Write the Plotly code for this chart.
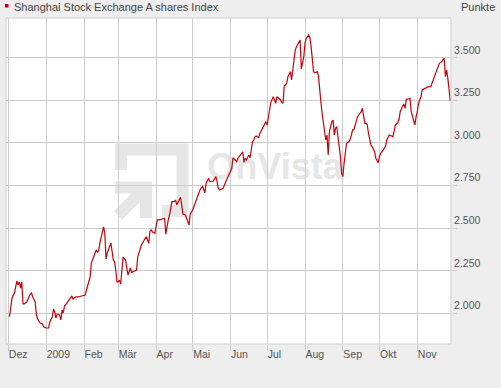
import plotly.graph_objects as go

# ---------------- data ----------------
dates = [
    "2008-12-02","2008-12-03","2008-12-04","2008-12-06","2008-12-07","2008-12-08","2008-12-09","2008-12-10",
    "2008-12-11","2008-12-12","2008-12-13","2008-12-14","2008-12-16","2008-12-17","2008-12-19","2008-12-20",
    "2008-12-21","2008-12-23","2008-12-24","2008-12-25","2008-12-27","2008-12-29","2008-12-30","2009-01-01",
    "2009-01-03","2009-01-04","2009-01-06","2009-01-07","2009-01-08","2009-01-09","2009-01-10","2009-01-11",
    "2009-01-12","2009-01-13","2009-01-14","2009-01-15","2009-01-16","2009-01-18","2009-01-19","2009-01-21",
    "2009-01-22","2009-01-23","2009-01-25","2009-01-27","2009-01-30","2009-02-02","2009-02-03","2009-02-05",
    "2009-02-06","2009-02-07","2009-02-08","2009-02-09","2009-02-11","2009-02-12","2009-02-13","2009-02-14",
    "2009-02-15","2009-02-16","2009-02-17","2009-02-18","2009-02-19","2009-02-20","2009-02-22","2009-02-23",
    "2009-02-25","2009-02-26","2009-02-27","2009-02-28","2009-03-01","2009-03-02","2009-03-03","2009-03-04",
    "2009-03-05","2009-03-07","2009-03-08","2009-03-09","2009-03-11","2009-03-12","2009-03-13","2009-03-16",
    "2009-03-17","2009-03-19","2009-03-20","2009-03-22","2009-03-23","2009-03-24","2009-03-26","2009-03-27",
    "2009-03-28","2009-03-29","2009-03-31","2009-04-01","2009-04-02","2009-04-04","2009-04-06","2009-04-08",
    "2009-04-09","2009-04-10","2009-04-11","2009-04-12","2009-04-13","2009-04-14","2009-04-16","2009-04-17",
    "2009-04-18","2009-04-20","2009-04-21","2009-04-22","2009-04-23","2009-04-25","2009-04-26","2009-04-27",
    "2009-04-28","2009-04-29","2009-05-01","2009-05-03","2009-05-05","2009-05-07","2009-05-09","2009-05-10",
    "2009-05-11","2009-05-12","2009-05-14","2009-05-15","2009-05-17","2009-05-18","2009-05-20","2009-05-21",
    "2009-05-22","2009-05-23","2009-05-26","2009-05-27","2009-05-29","2009-05-31","2009-06-02","2009-06-03",
    "2009-06-05","2009-06-06","2009-06-07","2009-06-09","2009-06-11","2009-06-12","2009-06-13","2009-06-14",
    "2009-06-16","2009-06-17","2009-06-18","2009-06-19","2009-06-20","2009-06-21","2009-06-22","2009-06-24",
    "2009-06-25","2009-06-26","2009-06-27","2009-06-29","2009-06-30","2009-07-01","2009-07-02","2009-07-03",
    "2009-07-04","2009-07-05","2009-07-06","2009-07-07","2009-07-08","2009-07-09","2009-07-11","2009-07-12",
    "2009-07-13","2009-07-14","2009-07-15","2009-07-16","2009-07-17","2009-07-18","2009-07-20","2009-07-21",
    "2009-07-22","2009-07-23","2009-07-24","2009-07-25","2009-07-27","2009-07-28","2009-07-29","2009-07-30",
    "2009-07-31","2009-08-01","2009-08-02","2009-08-04","2009-08-05","2009-08-06","2009-08-07","2009-08-08",
    "2009-08-09","2009-08-11","2009-08-12","2009-08-13","2009-08-14","2009-08-15","2009-08-16","2009-08-17",
    "2009-08-18","2009-08-19","2009-08-20","2009-08-21","2009-08-22","2009-08-23","2009-08-24","2009-08-25",
    "2009-08-26","2009-08-27","2009-08-28","2009-08-29","2009-08-30","2009-08-31","2009-09-01","2009-09-02",
    "2009-09-03","2009-09-04","2009-09-06","2009-09-07","2009-09-08","2009-09-09","2009-09-10","2009-09-11",
    "2009-09-12","2009-09-13","2009-09-15","2009-09-16","2009-09-17","2009-09-18","2009-09-19","2009-09-20",
    "2009-09-21","2009-09-22","2009-09-23","2009-09-24","2009-09-25","2009-09-27","2009-09-28","2009-09-29",
    "2009-09-30","2009-10-01","2009-10-02","2009-10-04","2009-10-06","2009-10-07","2009-10-09","2009-10-11",
    "2009-10-12","2009-10-14","2009-10-16","2009-10-17","2009-10-18","2009-10-20","2009-10-21","2009-10-22",
    "2009-10-23","2009-10-25","2009-10-26","2009-10-27","2009-10-28","2009-10-29","2009-10-30","2009-10-31",
    "2009-11-01","2009-11-02","2009-11-04","2009-11-05","2009-11-06","2009-11-08","2009-11-10","2009-11-12",
    "2009-11-13","2009-11-15","2009-11-16","2009-11-18","2009-11-19","2009-11-21","2009-11-22","2009-11-23",
    "2009-11-24","2009-11-25","2009-11-26","2009-11-27","2009-11-28",
]
values = [
    1980, 2031, 2090, 2119, 2154, 2190, 2166, 2184,
    2148, 2184, 2055, 2055, 2066, 2084, 2113, 2119,
    2096, 2066, 1990, 1967, 1943, 1937, 1919, 1914,
    1914, 1949, 1978, 2025, 2008, 1972, 1996, 1996,
    1990, 1961, 2019, 2002, 2043, 2060, 2072, 2090,
    2102, 2084, 2096, 2096, 2102, 2107, 2137, 2195,
    2213, 2295, 2313, 2330, 2372, 2360, 2366, 2413,
    2448, 2489, 2507, 2471, 2319, 2354, 2389, 2413,
    2313, 2303, 2254, 2184, 2185, 2195, 2172, 2237,
    2330, 2313, 2273, 2225, 2266, 2237, 2244, 2254,
    2332, 2372, 2401, 2426, 2440, 2450, 2411, 2483,
    2489, 2479, 2470, 2518, 2548, 2548, 2552, 2558,
    2465, 2518, 2548, 2577, 2616, 2655, 2655, 2665,
    2636, 2665, 2681, 2636, 2583, 2577, 2558, 2538,
    2518, 2583, 2606, 2646, 2684, 2724, 2747, 2724,
    2708, 2763, 2792, 2772, 2772, 2778, 2802, 2772,
    2734, 2724, 2734, 2753, 2788, 2822, 2851, 2913,
    2894, 2890, 2910, 2929, 2948, 2886, 2910, 2900,
    2929, 2913, 2968, 3007, 3017, 3036, 3041, 3031,
    3056, 3070, 3086, 3105, 3125, 3105, 3164, 3193,
    3238, 3258, 3271, 3252, 3232, 3271, 3258, 3252,
    3238, 3232, 3336, 3340, 3350, 3389, 3418, 3369,
    3428, 3497, 3545, 3565, 3594, 3604, 3434, 3477,
    3506, 3585, 3614, 3633, 3617, 3565, 3487, 3418,
    3412, 3418, 3393, 3301, 3242, 3174, 3125, 3076,
    3017, 3046, 2929, 3066, 3105, 3125, 3134, 3046,
    3086, 3095, 3036, 2978, 2919, 2822, 2802, 2880,
    2958, 2998, 3007, 3021, 3046, 3076, 3076, 3099,
    3134, 3154, 3174, 3183, 3203, 3164, 3115, 3115,
    3105, 3056, 3017, 2988, 2978, 2948, 2910, 2900,
    2884, 2919, 2939, 2958, 2982, 3017, 3046, 3041,
    3036, 3105, 3119, 3139, 3183, 3217, 3228, 3203,
    3256, 3259, 3262, 3183, 3154, 3134, 3105, 3154,
    3183, 3232, 3271, 3311, 3315, 3321, 3330, 3330,
    3350, 3389, 3418, 3447, 3467, 3477, 3487, 3497,
    3389, 3428, 3379, 3291, 3246,
]

x_tick_dates = ["2008-12-01", "2009-01-01", "2009-02-01", "2009-03-01", "2009-04-01", "2009-05-01",
                "2009-06-01", "2009-07-01", "2009-08-01", "2009-09-01", "2009-10-01", "2009-11-01"]
x_tick_labels = ["Dez", "2009", "Feb", "Mär", "Apr", "Mai", "Jun", "Jul", "Aug", "Sep", "Okt", "Nov"]
y_tick_values = [2000, 2250, 2500, 2750, 3000, 3250, 3500]
y_tick_labels = ["2.000", "2.250", "2.500", "2.750", "3.000", "3.250", "3.500"]

title_text = "Shanghai Stock Exchange A shares Index"
unit_text = "Punkte"
watermark_text = "OnVista"

# ---------------- layout helpers ----------------
W_FIG, H_FIG = 501, 388
ML, MR, MT, MB = 6, 50, 18, 44
PW = W_FIG - ML - MR
PH = H_FIG - MT - MB
FONT = "Liberation Sans, Arial, sans-serif"
WM = "#e6e6e6"


def px(x):
    return (x - ML) / PW


def py(y):
    return 1 - (y - MT) / PH


def path(points):
    s = ""
    for i, (x, y) in enumerate(points):
        s += ("M" if i == 0 else "L") + f"{px(x):.5f},{py(y):.5f} "
    return s.strip()


fig = go.Figure()
fig.add_trace(go.Scatter(
    x=dates, y=values, mode="lines",
    line=dict(color="#c8000a", width=1.2),
    hoverinfo="x+y", showlegend=False,
))

shapes = [
    # watermark logo (below gridlines)
    dict(type="path", xref="paper", yref="paper", layer="below",
         path=path([(121, 170), (121, 149.5), (182.5, 149.5), (182.5, 211), (162, 211)]),
         line=dict(color=WM, width=12)),
    dict(type="path", xref="paper", yref="paper", layer="below",
         path=path([(115, 187.5), (146, 187.5), (146, 218)]),
         line=dict(color=WM, width=12)),
    dict(type="path", xref="paper", yref="paper", layer="below",
         path=path([(146, 187.5), (118, 215.5)]),
         line=dict(color=WM, width=12)),
    # watermark text
    dict(type="rect", xref="paper", yref="paper", layer="below",
         x0=px(200), x1=px(350), y0=py(185), y1=py(142),
         line=dict(width=0), fillcolor="rgba(0,0,0,0)",
         label=dict(text=watermark_text, textposition="middle center",
                    font=dict(family=FONT, size=36, color=WM, weight="bold"))),
    # plot border
    dict(type="rect", xref="paper", yref="paper", x0=0, x1=1, y0=0, y1=1,
         line=dict(color="#cfcfcf", width=1), layer="above"),
    # red square before title
    dict(type="rect", xref="paper", yref="paper",
         x0=px(5), x1=px(8.5), y0=py(7.5), y1=py(4),
         line=dict(width=0), fillcolor="#cc0000"),
]

annotations = [
    dict(text=title_text, xref="paper", yref="paper", x=px(12), y=py(6.5),
         xanchor="left", yanchor="middle", showarrow=False,
         font=dict(family=FONT, size=11, color="#444444")),
    dict(text=unit_text, xref="paper", yref="paper", x=px(497), y=py(6.5),
         xanchor="right", yanchor="middle", showarrow=False,
         font=dict(family=FONT, size=11, color="#444444")),
]

fig.update_layout(
    width=W_FIG, height=H_FIG,
    margin=dict(l=ML, r=MR, t=MT, b=MB, pad=0),
    paper_bgcolor="#eeeeee", plot_bgcolor="#ffffff",
    font=dict(family=FONT, size=10.5, color="#555555"),
    shapes=shapes, annotations=annotations,
    showlegend=False,
    xaxis=dict(
        type="date",
        range=["2008-11-29 02:00", "2009-11-28 14:00"],
        tickmode="array", tickvals=x_tick_dates, ticktext=x_tick_labels,
        ticks="outside", ticklen=6, tickcolor="#cccccc", tickwidth=1,
        ticklabelposition="outside right",
        showgrid=True, gridcolor="#cccccc", gridwidth=1,
        zeroline=False, showline=False,
        tickfont=dict(family=FONT, size=10.5, color="#555555"),
        fixedrange=True,
    ),
    yaxis=dict(
        range=[1820, 3733], side="right",
        tickmode="array", tickvals=y_tick_values, ticktext=y_tick_labels,
        ticks="outside", ticklen=5, tickcolor="#cccccc", tickwidth=1,
        ticklabelposition="outside top",
        showgrid=True, gridcolor="#cccccc", gridwidth=1,
        zeroline=False, showline=False,
        tickfont=dict(family=FONT, size=10.5, color="#555555"),
        fixedrange=True,
    ),
)

page_fix = ("document.documentElement.style.margin='0';document.body.style.margin='0';"
            "document.body.style.padding='0';document.body.style.overflow='hidden';"
            "document.body.style.background='#eeeeee';")

fig.write_html("out.html", config={"displayModeBar": False}, post_script=page_fix)
